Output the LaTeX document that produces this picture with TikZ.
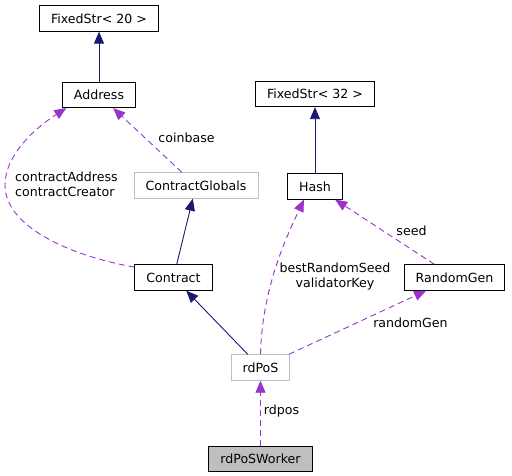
\documentclass[tikz,border=0pt]{standalone}
\usepackage{fontspec}
\setmainfont{DejaVu Sans}
\usepackage{xcolor}
\usetikzlibrary{arrows.meta, positioning}
\definecolor{navyline}{HTML}{191970}
\definecolor{usecol}{HTML}{9A32CD}
\definecolor{boxgray}{HTML}{BFBFBF}

\begin{document}
\begin{tikzpicture}[x=1pt, y=-1pt,
        every node/.style={font=\fontsize{12.6}{15}\selectfont},
        cls/.style={draw, line width=0.9pt, minimum height=25.5pt, inner xsep=11.5pt, inner ysep=0pt},
        ghost/.style={cls, draw=boxgray},
        inh/.style={draw=navyline, line width=0.9pt, -{Triangle[length=12pt, width=10pt]}, color=navyline},
        use/.style={draw=usecol, line width=0.9pt, dash pattern=on 6pt off 4pt, -{Triangle[length=12pt, width=10pt]}, color=usecol},
        lbl/.style={inner sep=0pt, text=black}]
        \useasboundingbox (0,0) rectangle (512,476);
        \node[cls] (fs20) at (99,18.5) {FixedStr< 20 >};
        \node[cls] (addr) [below=50pt of fs20] {Address};
        \node[ghost] (globals) at (196,185.5) {ContractGlobals};
        \node[cls] (contract) at (173.5,277.5) {Contract};
        \node[cls] (fs32) at (315,94) {FixedStr< 32 >};
        \node[cls] (hash) [below=66pt of fs32] {Hash};
        \node[cls] (rg) at (454.5,277.5) {RandomGen};
        \node[ghost] (rdpos) at (260.5,367.5) {rdPoS};
        \node[cls, fill=boxgray] (worker) [below=65pt of rdpos] {rdPoSWorker};
        \draw[inh] (addr) -- (fs20);
        \draw[inh] (hash) -- (fs32);
        \draw[inh] (contract) -- (globals);
        \draw[inh] (rdpos) -- (contract);
        \draw[use] (globals) -- (addr);
        \draw[use] (contract.165) .. controls (80,258) and (5,230) .. (5,185)
            .. controls (5,155) and (35,128) .. (addr.-158);
        \draw[use] (rdpos.north) .. controls (262,290) and (285,240) .. (hash.-130);
        \draw[use] (rg) -- (hash);
        \draw[use] (rdpos) -- (rg);
        \draw[use] (worker) -- (rdpos);
        \node[lbl] (lcoin) at (186.5,138) {coinbase};
        \node[lbl, anchor=west, align=left] (lcontr) at (15,184.5) {contractAddress\\contractCreator};
        \node[lbl, align=center] (lbest) at (335,276.5) {bestRandomSeed\\validatorKey};
        \node[lbl] (lseed) at (411.5,231) {seed};
        \node[lbl] (lrand) at (410.5,323) {randomGen};
        \node[lbl] (lrdpos) at (281.5,411) {rdpos};
    \end{tikzpicture}
\end{document}
